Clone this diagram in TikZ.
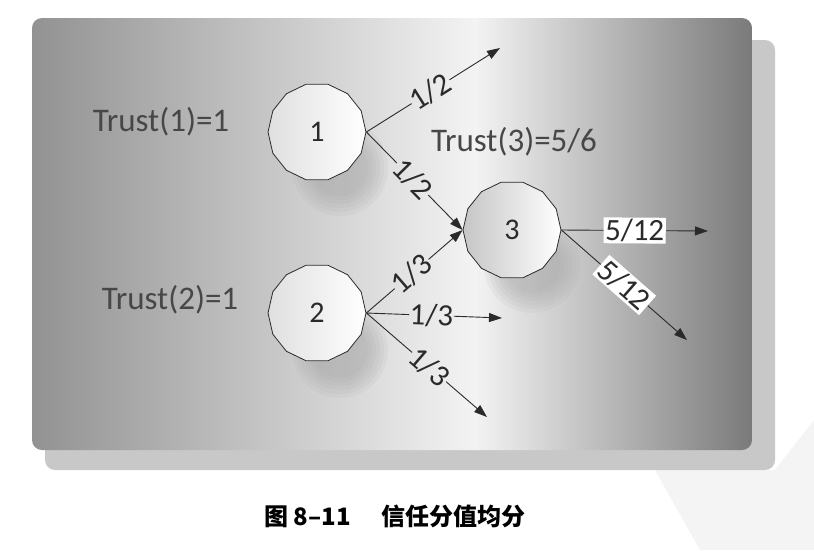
\documentclass[tikz,border=0pt]{standalone}
\usepackage{fontspec}
\setmainfont{Carlito}
\newfontfamily\cjk{Noto Sans CJK SC}
\usetikzlibrary{shapes.geometric,arrows.meta}
\definecolor{bgleft}{HTML}{929292}
\definecolor{bgmid}{HTML}{F3F3F3}
\definecolor{bgright}{HTML}{7A7A7A}
\definecolor{shadowc}{HTML}{C8C8C8}
\definecolor{inkc}{HTML}{2A2A2A}
\begin{document}
\begin{tikzpicture}[x=1pt,y=-1pt,
  tnode/.style={regular polygon, regular polygon sides=14, minimum size=98pt,
    draw=inkc, line width=0.8pt, left color=gray!25, right color=white,
    font=\fontsize{30}{30}\selectfont, text=inkc, inner sep=0pt},
  edge/.style={draw=inkc, line width=0.9pt},
  tip/.style={-{Triangle[length=13pt,width=9pt]}},
  lab/.style={sloped, font=\fontsize{31}{31}\selectfont, text=inkc, inner sep=0.5pt},
  wlab/.style={sloped, font=\fontsize{31}{31}\selectfont, text=inkc, fill=white, inner sep=1.5pt},
  trust/.style={font=\fontsize{33}{33}\selectfont, text=black!72},
  blob/.style={fill=gray!80, opacity=0.09}]
\useasboundingbox (0,0) rectangle (814,550);
\fill[white] (0,0) rectangle (814,550);
% faint watermark band
\fill[gray!9] (655,470) -- (775,470) -- (814,420) -- (814,550) -- (700,550) -- cycle;
% shadow of the panel
\fill[shadowc, rounded corners=10pt] (45,40) rectangle (775,470);
% panel with gradient
\begin{scope}
  \clip[rounded corners=10pt] (32,18) rectangle (752,450);
  \shade[left color=bgleft, right color=bgmid] (32,18) rectangle (475,450);
  \shade[left color=bgmid, right color=bgright] (475,18) rectangle (752,450);
\end{scope}
% soft shadows under the nodes
\foreach \cx/\cy in {340/168, 340/350, 532/265}{
  \foreach \r in {48,44,40,36,32,28}{
    \fill[blob] (\cx,\cy) circle (\r pt);
  }
}
% nodes
\node[tnode] (n1) at (317,132) {1};
\node[tnode] (n2) at (317,313) {2};
\node[tnode, left color=gray!45] (n3) at (512,230) {3};
% free ends
\coordinate (a1) at (500,48);
\coordinate (a4) at (502,318);
\coordinate (a5) at (487,417);
\coordinate (a6) at (708,231);
\coordinate (a7) at (687,340);
% edges with gap labels
\path (n1.east) -- (a1) node[lab, pos=.48] (l1) {1/2};
\draw[edge] (n1.east) -- (l1);
\draw[edge,tip] (l1) -- (a1);
\path (n1.east) -- (n3.west) node[lab, pos=.48] (l2) {1/2};
\draw[edge] (n1.east) -- (l2);
\draw[edge,tip] (l2) -- (n3.west);
\path (n2.east) -- (n3.west) node[lab, pos=.47] (l3) {1/3};
\draw[edge] (n2.east) -- (l3);
\draw[edge,tip] (l3) -- (n3.west);
\path (n2.east) -- (a4) node[lab, pos=.48] (l4) {1/3};
\draw[edge] (n2.east) -- (l4);
\draw[edge,tip] (l4) -- (a4);
\path (n2.east) -- (a5) node[lab, pos=.52] (l5) {1/3};
\draw[edge] (n2.east) -- (l5);
\draw[edge,tip] (l5) -- (a5);
% edges out of node 3 with white labels
\draw[edge,tip] (n3.east) -- (a6) node[wlab, pos=.5] (l6) {5/12};
\draw[edge,tip] (n3.east) -- (a7) node[wlab, pos=.5] (l7) {5/12};
% trust texts
\node[trust] (t1) at (161,122) {Trust(1)=1};
\node[trust] (t3) at (514,142) {Trust(3)=5/6};
\node[trust] (t2) at (170,300) {Trust(2)=1};
% caption
\node[font=\cjk\bfseries\fontsize{24}{24}\selectfont, text=black] (cap) at (395,516) {图 8–11\hspace{1.3em}信任分值均分};
\end{tikzpicture}
\end{document}
